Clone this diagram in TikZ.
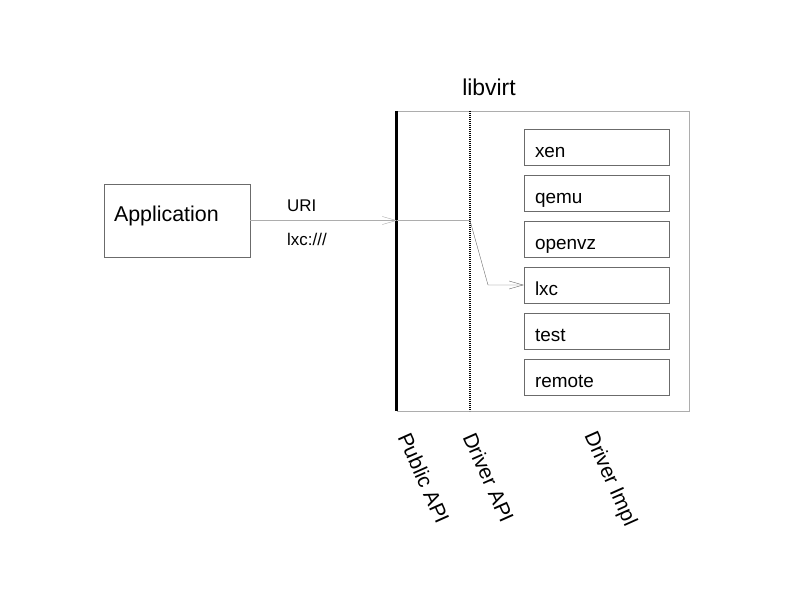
\documentclass[tikz,border=0pt]{standalone}
\usepackage{fontspec}
\setmainfont{Liberation Sans}
\usepackage{tikz}
\usetikzlibrary{arrows.meta}
\definecolor{lightline}{gray}{0.68}
\definecolor{darkline}{gray}{0.42}
\tikzstyle{arrow} = [-{Straight Barb[length=14bp,width=8bp]}]
\tikzstyle{drvbox} = [draw=darkline,rectangle,minimum width=145bp,minimum height=36bp,text width=123bp,align=left,text height=21bp,text depth=0bp,font=\fontsize{19}{22}\selectfont]
\tikzstyle{layer} = [anchor=south west,inner sep=0pt,rotate=-66,font=\fontsize{21}{25}\selectfont]

\begin{document}
\begin{tikzpicture}[x=1bp,y=-1bp]
            % basics
            \useasboundingbox (0,0) rectangle (792,612);
            \node[draw=darkline,rectangle,minimum width=146bp,minimum height=73bp,text width=126bp,align=left,text height=10bp,text depth=7bp,font=\fontsize{21.5}{25}\selectfont] (app) at (177,220.5) {Application};
            \node[draw=lightline,rectangle,minimum width=292bp,minimum height=300bp] (lib) at (543,261) {};
            \node[font=\fontsize{23}{27}\selectfont] (title) at (489,87) {libvirt};
            \node[drvbox] (xen) at (596.5,147) {xen};
            \node[drvbox] (qemu) at (596.5,193) {qemu};
            \node[drvbox] (openvz) at (596.5,239) {openvz};
            \node[drvbox] (lxc) at (596.5,285) {lxc};
            \node[drvbox] (test) at (596.5,331) {test};
            \node[drvbox] (remote) at (596.5,377) {remote};
            \node[anchor=south west,inner sep=0pt,font=\fontsize{17}{20}\selectfont] (uri) at (287,212) {URI};
            \node[anchor=north west,inner sep=0pt,font=\fontsize{17}{20}\selectfont] (uriname) at (287,233) {lxc:///};
            \coordinate (pub) at (397,220.5);
            \coordinate (drv) at (470,220.5);
            \coordinate (drvtop) at (470,111);
            \coordinate (drvbot) at (470,411);
            \coordinate (bend) at (488,285);
            \draw[line width=3bp] (lib.north west) -- (lib.south west);
            \draw[line width=2bp,dash pattern=on 1bp off 1bp] (drvtop) -- (drvbot);
            \draw[arrow,lightline] (app.east) -- (pub);
            \draw[-,lightline] (pub) -- (drv);
            \draw[arrow,darkline] (drv) -- (bend) -- (lxc.west);
            \node[layer] (pubapi) at (397,437) {Public API};
            \node[layer] (drvapi) at (462,437) {Driver API};
            \node[layer] (drvimpl) at (580,437) {Driver Impl};
        \end{tikzpicture}
\end{document}
